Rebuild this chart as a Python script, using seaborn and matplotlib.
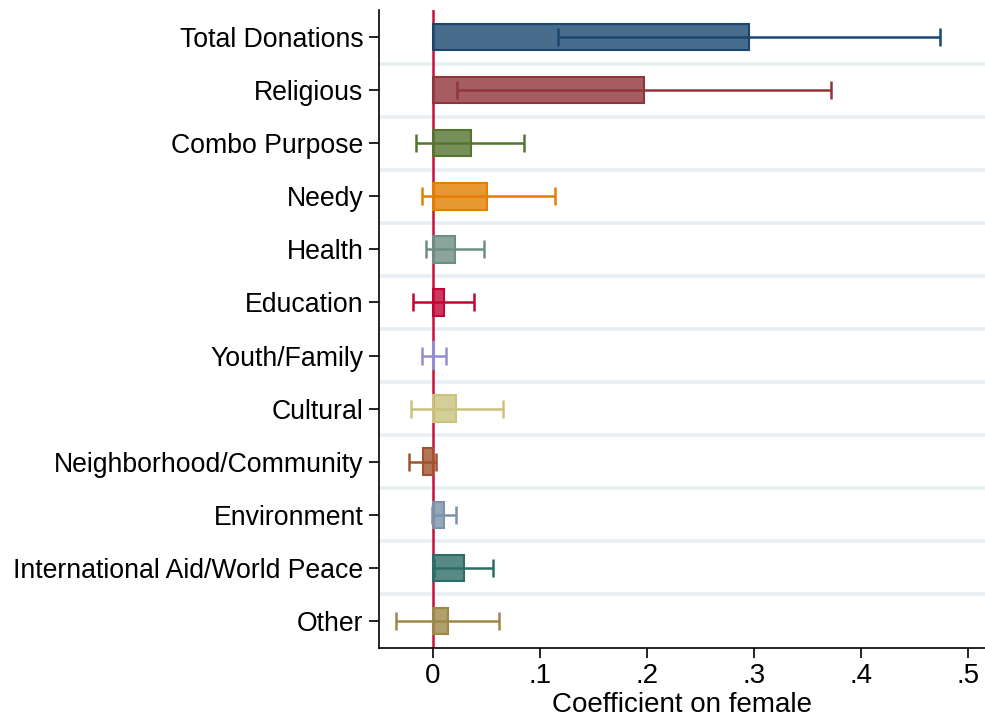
import matplotlib
matplotlib.use("Agg")
import matplotlib.pyplot as plt
import seaborn as sns
import pandas as pd
import numpy as np
from matplotlib.colors import to_rgba

categories = [
    "Total Donations", "Religious", "Combo Purpose", "Needy", "Health",
    "Education", "Youth/Family", "Cultural", "Neighborhood/Community",
    "Environment", "International Aid/World Peace", "Other",
]
coef = [0.2955, 0.1967, 0.0352, 0.0509, 0.0209, 0.0099, 0.0008,
        0.0220, -0.0092, 0.0099, 0.0286, 0.0136]
ci_low = [0.1170, 0.0227, -0.0154, -0.0106, -0.0062, -0.0190, -0.0106,
          -0.0205, -0.0223, -0.0010, 0.0007, -0.0344]
ci_high = [0.4740, 0.3718, 0.0850, 0.1136, 0.0480, 0.0388, 0.0121,
           0.0659, 0.0029, 0.0212, 0.0557, 0.0619]
colors = ["#1a476f", "#90353b", "#55752f", "#e37e00", "#6e8e84", "#c10534",
          "#938dd2", "#cac27e", "#a0522d", "#7b92a8", "#2d6d66", "#9c8847"]

df = pd.DataFrame({"category": categories, "coef": coef})

sns.set_theme(style="white")
plt.rcParams["font.family"] = ["Liberation Sans", "DejaVu Sans"]

fig = plt.figure(figsize=(9.85, 7.17), dpi=100)
ax = fig.add_axes([0.3852, 0.0969, 0.6148, 0.8885])

# Separators between categories
for k in range(len(categories) - 1):
    ax.axhline(k + 0.5, color="#e8eff2", lw=2.6, zorder=0)

# Zero reference line
ax.axvline(0, color="#c8103c", lw=1.8, zorder=1)

sns.barplot(data=df, x="coef", y="category", hue="category", palette=colors,
            order=categories, hue_order=categories, legend=False, width=0.5,
            orient="h", ax=ax, zorder=2)

for patch, c in zip(ax.patches, colors):
    patch.set_facecolor(to_rgba(c, 0.8))
    patch.set_edgecolor(c)
    patch.set_linewidth(1.5)
    patch.set_zorder(2)

ypos = np.arange(len(categories))
for i, c in enumerate(colors):
    ax.errorbar(coef[i], ypos[i],
                xerr=[[coef[i] - ci_low[i]], [ci_high[i] - coef[i]]],
                fmt="none", ecolor=c, elinewidth=1.8, capsize=6.5,
                capthick=1.8, zorder=3)

ax.set_xlim(-0.05, 0.5157)
ax.set_ylim(len(categories) - 0.5, -0.5)
ax.set_xticks([0, 0.1, 0.2, 0.3, 0.4, 0.5])
ax.set_xticklabels(["0", ".1", ".2", ".3", ".4", ".5"])
ax.set_xlabel("Coefficient on female", fontsize=20, color="black", labelpad=2)
ax.set_ylabel("")

for side in ["top", "right"]:
    ax.spines[side].set_visible(False)
for side in ["left", "bottom"]:
    ax.spines[side].set_color("black")
    ax.spines[side].set_linewidth(1.2)

ax.tick_params(axis="x", labelsize=20, length=7.5, width=1.2, color="black",
               labelcolor="black", pad=4, bottom=True)
ax.tick_params(axis="y", labelsize=19.2, length=7.5, width=1.2, color="black",
               labelcolor="black", pad=4, left=True)

fig.savefig("out.png", dpi=100, facecolor="white")
